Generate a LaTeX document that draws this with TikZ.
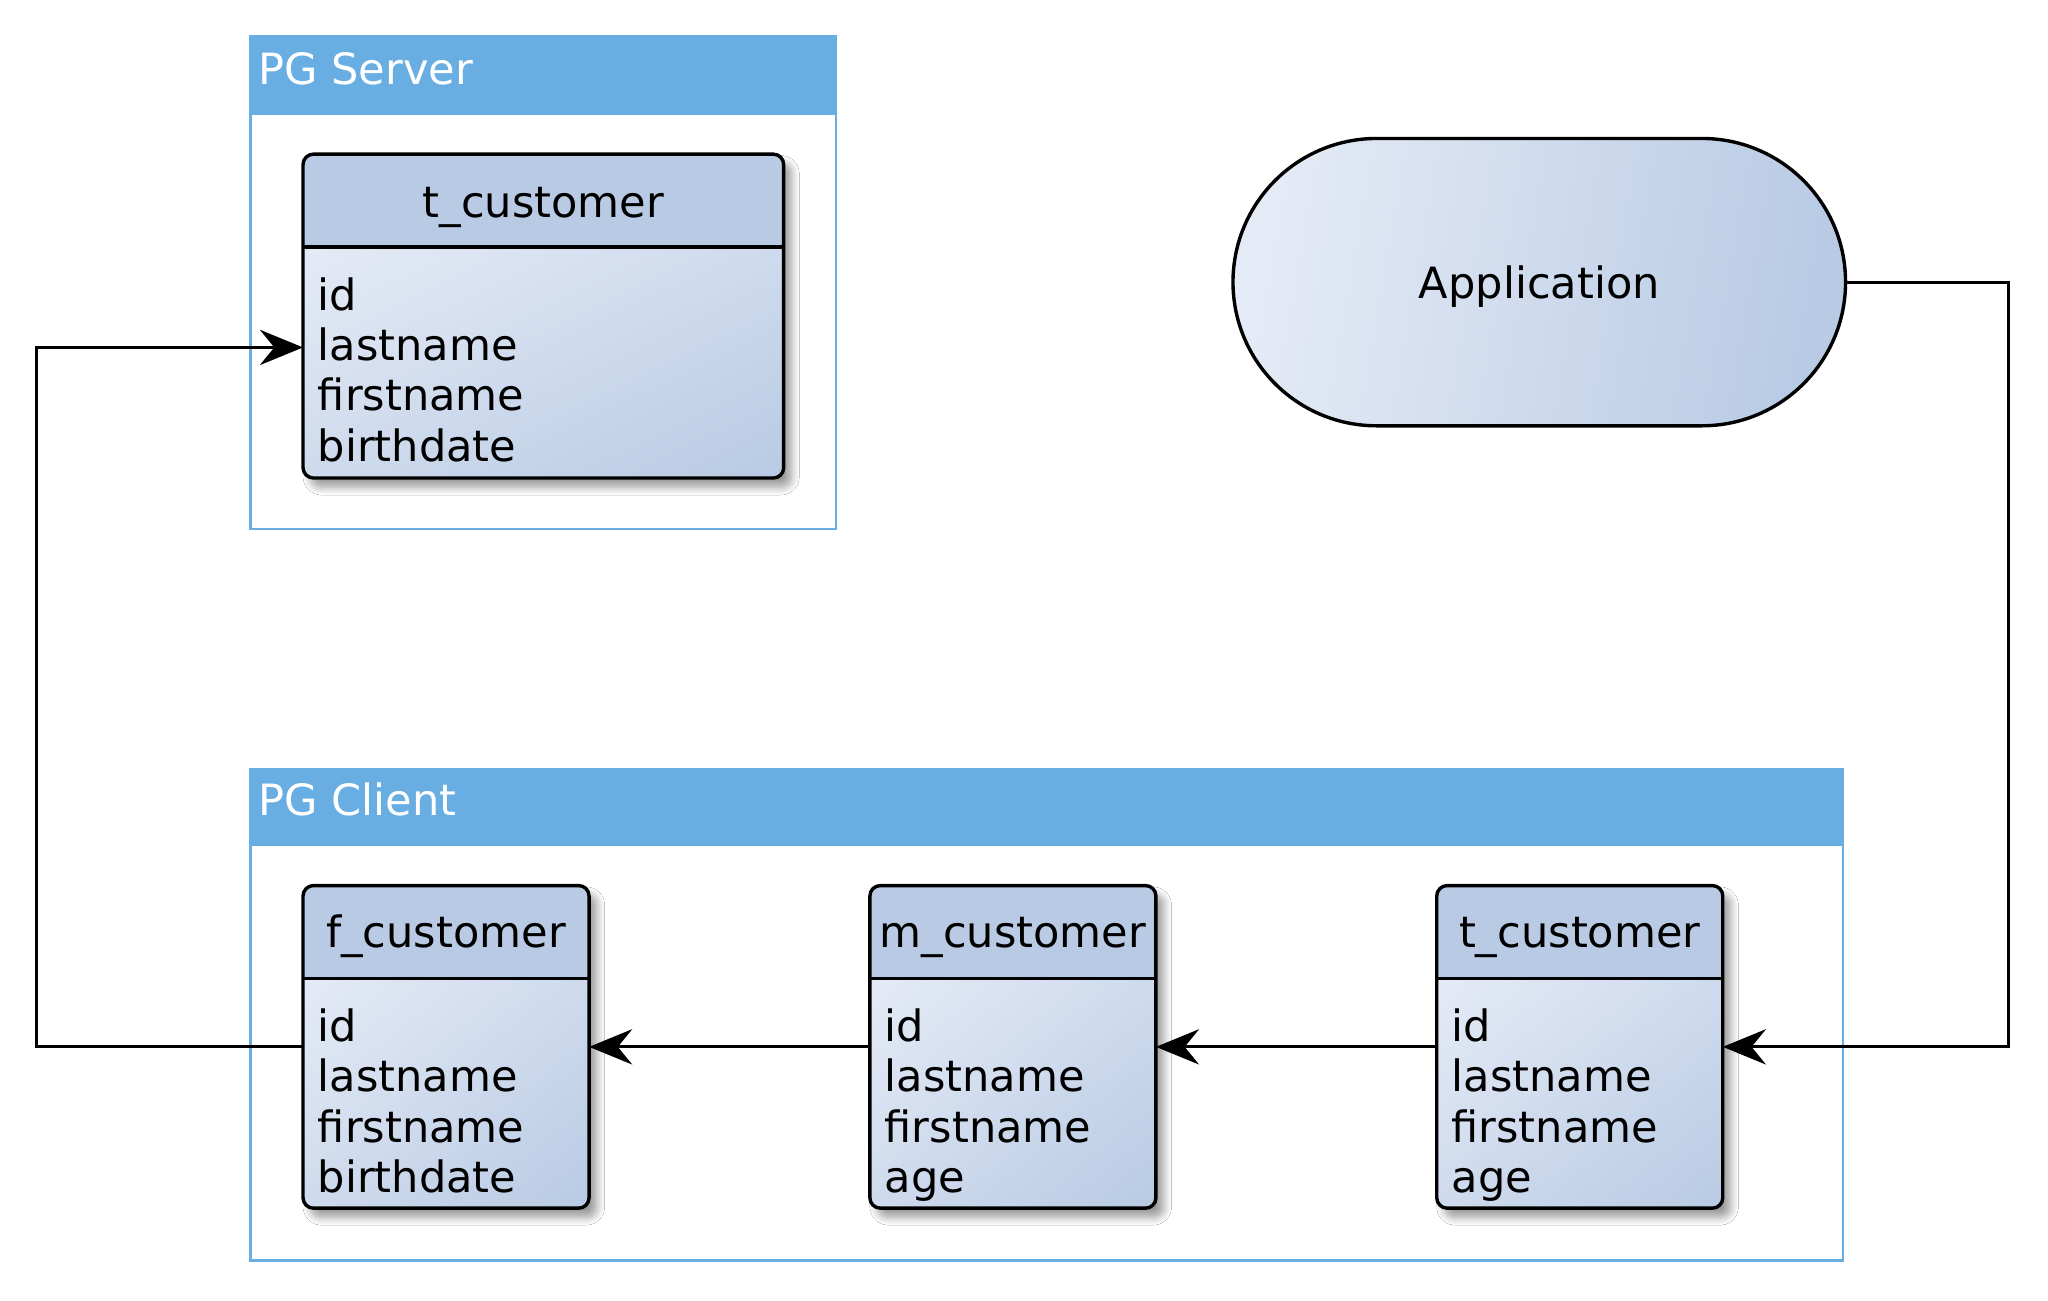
\documentclass[tikz,border=0pt]{standalone}
\usepackage{fontspec}
\setmainfont{DejaVu Sans}
\usetikzlibrary{arrows.meta,shadows.blur,shadings,calc}
\definecolor{contblue}{HTML}{68AEE2}
\definecolor{hdr}{HTML}{B8CAE4}
\definecolor{lite}{HTML}{E5EBF6}
\colorlet{midc}{hdr!50!lite}
\tikzset{
  x=0.5pt, y=-0.5pt,
  every node/.style={font=\fontsize{16.5}{19.8}\selectfont},
  tbl/.style={fill=hdr, rounded corners=4pt, inner sep=0pt, outer sep=0pt,
    blur shadow={shadow xshift=3pt, shadow yshift=-3.5pt, shadow blur radius=3pt, shadow blur steps=10}},
  contbox/.style={draw=contblue, line width=1pt, inner sep=0pt, outer sep=0pt},
  conttitle/.style={text=white, anchor=base west, inner sep=0pt},
  rowtext/.style={anchor=base west, inner sep=0pt},
  ttl/.style={anchor=base, inner sep=0pt},
  conn/.style={draw=black, line width=1.1pt, -{Stealth[length=16.5pt, width=13.5pt, inset=5.5pt]}},
}
\newcommand\dbtab[5]{%
  \node[tbl, minimum width=#4*0.5pt, minimum height=#5*0.5pt] (#1) at (#2,#3) {};
  \begin{scope}
    \clip[rounded corners=4pt] (#1.north west) rectangle (#1.south east);
    \shade[upper left=lite, lower right=hdr, upper right=midc, lower left=midc]
      ($(#1.north west)+(0,71)$) rectangle (#1.south east);
  \end{scope}
  \draw[line width=1.3pt, rounded corners=4pt] (#1.north west) rectangle (#1.south east);
  \draw[line width=1.3pt] ($(#1.north west)+(0,71)$) -- ($(#1.north east)+(0,71)$);
}
\begin{document}
\begin{tikzpicture}
\useasboundingbox (0,0) rectangle (1568,996);
\fill[white] (0,0) rectangle (1568,996);

% containers
\node[contbox, minimum width=224pt, minimum height=188.5pt] (server) at (416,216.5) {};
\fill[contblue] ($(server.north west)+(-1,-1)$) rectangle ($(server.north east)+(1,60)$);
\node[conttitle] (servertitle) at (197.5,64.5) {PG Server};

\node[contbox, minimum width=609.5pt, minimum height=188pt] (client) at (801.5,777) {};
\fill[contblue] ($(client.north west)+(-1,-1)$) rectangle ($(client.north east)+(1,59)$);
\node[conttitle] (clienttitle) at (197.5,624.5) {PG Client};

% server table
\dbtab{srv}{416}{242}{368}{248}
\node[ttl] (srvtitle) at (416,166.5) {t\_customer};
\node[rowtext] (srv1) at (243,237.5) {id};
\node[rowtext] (srv2) at (243,276) {lastname};
\node[rowtext] (srv3) at (243,314.5) {firstname};
\node[rowtext] (srv4) at (243,353) {birthdate};

% client tables
\dbtab{f}{341.5}{801.5}{219}{247}
\node[ttl] (ftitle) at (341.5,725.5) {f\_customer};
\node[rowtext] (f1) at (243,797.5) {id};
\node[rowtext] (f2) at (243,836) {lastname};
\node[rowtext] (f3) at (243,874.5) {firstname};
\node[rowtext] (f4) at (243,913) {birthdate};

\dbtab{m}{775.5}{801.5}{219}{247}
\node[ttl] (mtitle) at (775.5,725.5) {m\_customer};
\node[rowtext] (m1) at (677,797.5) {id};
\node[rowtext] (m2) at (677,836) {lastname};
\node[rowtext] (m3) at (677,874.5) {firstname};
\node[rowtext] (m4) at (677,913) {age};

\dbtab{tt}{1209.5}{801.5}{219}{247}
\node[ttl] (tttitle) at (1209.5,725.5) {t\_customer};
\node[rowtext] (tt1) at (1111,797.5) {id};
\node[rowtext] (tt2) at (1111,836) {lastname};
\node[rowtext] (tt3) at (1111,874.5) {firstname};
\node[rowtext] (tt4) at (1111,913) {age};

% application
\node[draw=black, line width=1.3pt, rounded corners=55pt, minimum width=234.5pt, minimum height=110pt,
  inner sep=0pt, outer sep=0pt, left color=lite, right color=hdr, shading angle=80] (app) at (1178.5,216) {};
\node[ttl] (apptext) at (1178.5,228.5) {Application};

% connectors
\coordinate (rx) at (1538,801.5);
\coordinate (lx) at (28,266);
\coordinate (srvin) at ($(srv.west)+(0,24)$);
\draw[conn] (app.east) -| (rx) -- (tt.east);
\draw[conn] (tt.west) -- (m.east);
\draw[conn] (m.west) -- (f.east);
\draw[conn] (f.west) -| (lx) -- (srvin);
\end{tikzpicture}
\end{document}
